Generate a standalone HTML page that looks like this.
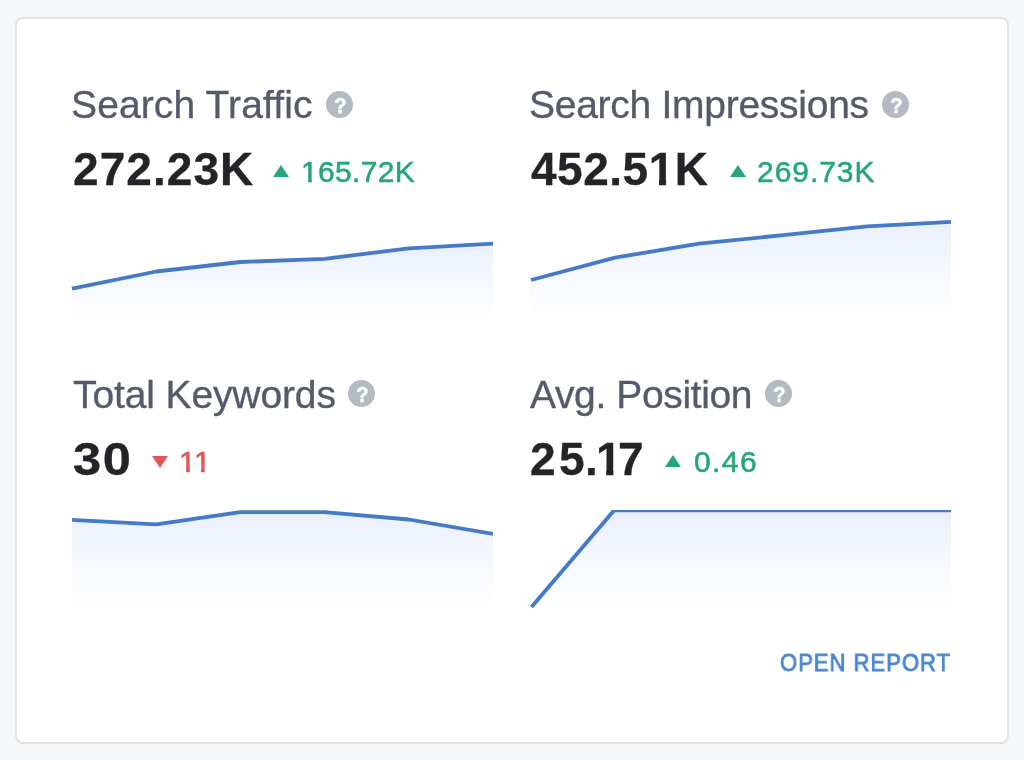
<!DOCTYPE html>
<html><head><meta charset="utf-8">
<style>
html,body{margin:0;padding:0;width:1024px;height:760px;overflow:hidden;background:#f6f7f9;}
body{position:relative;font-family:"Liberation Sans",sans-serif;}
.card{position:absolute;left:15px;top:17px;width:990px;height:723px;background:#fff;border:2px solid #e1e2e6;border-radius:8px;}
.t{position:absolute;white-space:pre;line-height:1;will-change:transform;}
.title{font-size:39px;color:#555a6a;-webkit-text-stroke:0.35px #555a6a;}
.big{font-size:46px;font-weight:700;color:#232427;-webkit-text-stroke:0.3px #232427;}
.small{font-size:30px;}
.up{color:#24a67a;-webkit-text-stroke:0.55px #24a67a;}
.down{color:#e05555;-webkit-text-stroke:0.55px #e05555;}
.q{position:absolute;will-change:transform;width:27px;height:27px;border-radius:50%;background:#b4bac4;}
.q span{position:absolute;left:0.5px;top:0.6px;width:27px;text-align:center;font-size:22.5px;line-height:27px;font-weight:700;color:#fff;transform:scaleX(0.9);-webkit-text-stroke:0.5px #fff;}
.tri{position:absolute;width:0;height:0;}
.tri.u{border-left:8.5px solid transparent;border-right:8.5px solid transparent;border-bottom:12px solid #24a67a;}
.tri.d{border-left:8px solid transparent;border-right:8px solid transparent;border-top:12.5px solid #e05555;}
svg{position:absolute;left:0;top:0;}
.one{display:inline-block;clip-path:polygon(-10% -10%,110% -10%,110% 0.715em,0.36em 0.715em,0.36em 110%,0.235em 110%,0.235em 0.715em,-10% 0.715em);}
.oneb{display:inline-block;clip-path:polygon(-10% -10%,110% -10%,110% 0.71em,0.38em 0.71em,0.38em 110%,0.225em 110%,0.225em 0.71em,-10% 0.71em);}
.open{position:absolute;will-change:transform;font-size:24.5px;font-weight:400;color:#4a86d2;-webkit-text-stroke:0.85px #4a86d2;letter-spacing:1.1px;transform:scaleX(0.9);transform-origin:0 0;line-height:1;white-space:pre;}
</style></head>
<body>
<div class="card"></div>

<!-- charts -->
<svg width="1024" height="760" viewBox="0 0 1024 760">
  <defs>
    <linearGradient id="g1" x1="0" y1="0" x2="0" y2="1">
      <stop offset="0" stop-color="#eaf0fc"/>
      <stop offset="1" stop-color="#ffffff"/>
    </linearGradient>
    <clipPath id="c1"><rect x="69" y="218" width="424" height="102"/></clipPath>
    <clipPath id="c2"><rect x="528" y="218" width="424" height="102"/></clipPath>
    <clipPath id="c3"><rect x="69" y="508" width="424" height="102"/></clipPath>
    <clipPath id="c4"><rect x="528" y="510" width="424" height="100"/></clipPath>
  </defs>
  <g clip-path="url(#c1)">
    <path d="M72,288.7 L156.2,271.5 L240.4,262 L324.6,258.8 L408.8,248.3 L493,243.6 L493,317 L72,317 Z" fill="url(#g1)"/>
    <path d="M72,288.7 L156.2,271.5 L240.4,262 L324.6,258.8 L408.8,248.3 L493,243.6" fill="none" stroke="#457ac8" stroke-width="3.8" stroke-linejoin="round"/>
  </g>
  <g clip-path="url(#c2)">
    <path d="M531,280 L615,257.7 L699,243.7 L783,235.1 L867,226.3 L951,221.8 L951,317 L531,317 Z" fill="url(#g1)"/>
    <path d="M531,280 L615,257.7 L699,243.7 L783,235.1 L867,226.3 L951,221.8" fill="none" stroke="#457ac8" stroke-width="3.8" stroke-linejoin="round"/>
  </g>
  <g clip-path="url(#c3)">
    <path d="M72,519.8 L156.2,524.4 L240.4,512.2 L324.6,512.2 L408.8,519.5 L493,534 L493,606 L72,606 Z" fill="url(#g1)"/>
    <path d="M72,519.8 L156.2,524.4 L240.4,512.2 L324.6,512.2 L408.8,519.5 L493,534" fill="none" stroke="#457ac8" stroke-width="3.8" stroke-linejoin="round"/>
  </g>
  <g clip-path="url(#c4)">
    <path d="M531.5,607 L614,510.4 L951,510.4 L951,607 L531.5,607 Z" fill="url(#g1)"/>
    <path d="M531.5,607 L614,510.4 L951,510.4" fill="none" stroke="#457ac8" stroke-width="3.8" stroke-linejoin="round"/>
  </g>
</svg>

<!-- row 1 -->
<div class="t title" style="left:71px;top:84.6px;letter-spacing:0.12px;">Search Traffic</div>
<div class="q" style="left:325.5px;top:90.5px;"><span>?</span></div>
<div class="t big" style="left:72.5px;top:146px;letter-spacing:1.07px;">272.23K</div>
<div class="tri u" style="left:273px;top:164.6px;"></div>
<div class="t small up" style="left:300.7px;top:156.9px;letter-spacing:0.33px;"><span class="one">1</span>65.72K</div>

<div class="t title" style="left:529.2px;top:84.6px;letter-spacing:-0.27px;">Search Impressions</div>
<div class="q" style="left:881.5px;top:90.5px;"><span>?</span></div>
<div class="t big" style="left:530.8px;top:146px;letter-spacing:0.5px;">452.5<span class="oneb">1</span>K</div>
<div class="tri u" style="left:729.5px;top:164.6px;"></div>
<div class="t small up" style="left:756.9px;top:156.9px;letter-spacing:0.95px;">269.73K</div>

<!-- row 2 -->
<div class="t title" style="left:73.2px;top:374.6px;letter-spacing:-0.12px;">Total Keywords</div>
<div class="q" style="left:347.5px;top:380.2px;"><span>?</span></div>
<div class="t big" style="left:73.2px;top:435.8px;letter-spacing:1.5px;transform:scaleX(1.1);transform-origin:0 0;">30</div>
<div class="tri d" style="left:152.4px;top:456px;"></div>
<div class="t small down" style="left:178.8px;top:446.6px;letter-spacing:-1.8px;"><span class="one">1</span><span class="one">1</span></div>

<div class="t title" style="left:529.8px;top:374.6px;letter-spacing:-0.37px;">Avg. Position</div>
<div class="q" style="left:764.5px;top:380.2px;"><span>?</span></div>
<div class="t big" style="left:529.5px;top:435.8px;letter-spacing:-0.2px;">2<span style="margin-left:3.5px">5</span><span style="margin-left:0.8px">.</span><span class="oneb" style="margin-left:-1.8px">1</span><span style="margin-left:-3.3px">7</span></div>
<div class="tri u" style="left:665.3px;top:454.5px;"></div>
<div class="t small up" style="left:694px;top:446.6px;letter-spacing:1.4px;">0.46</div>

<div class="open" style="left:780px;top:650.5px;">OPEN REPORT</div>
</body></html>
